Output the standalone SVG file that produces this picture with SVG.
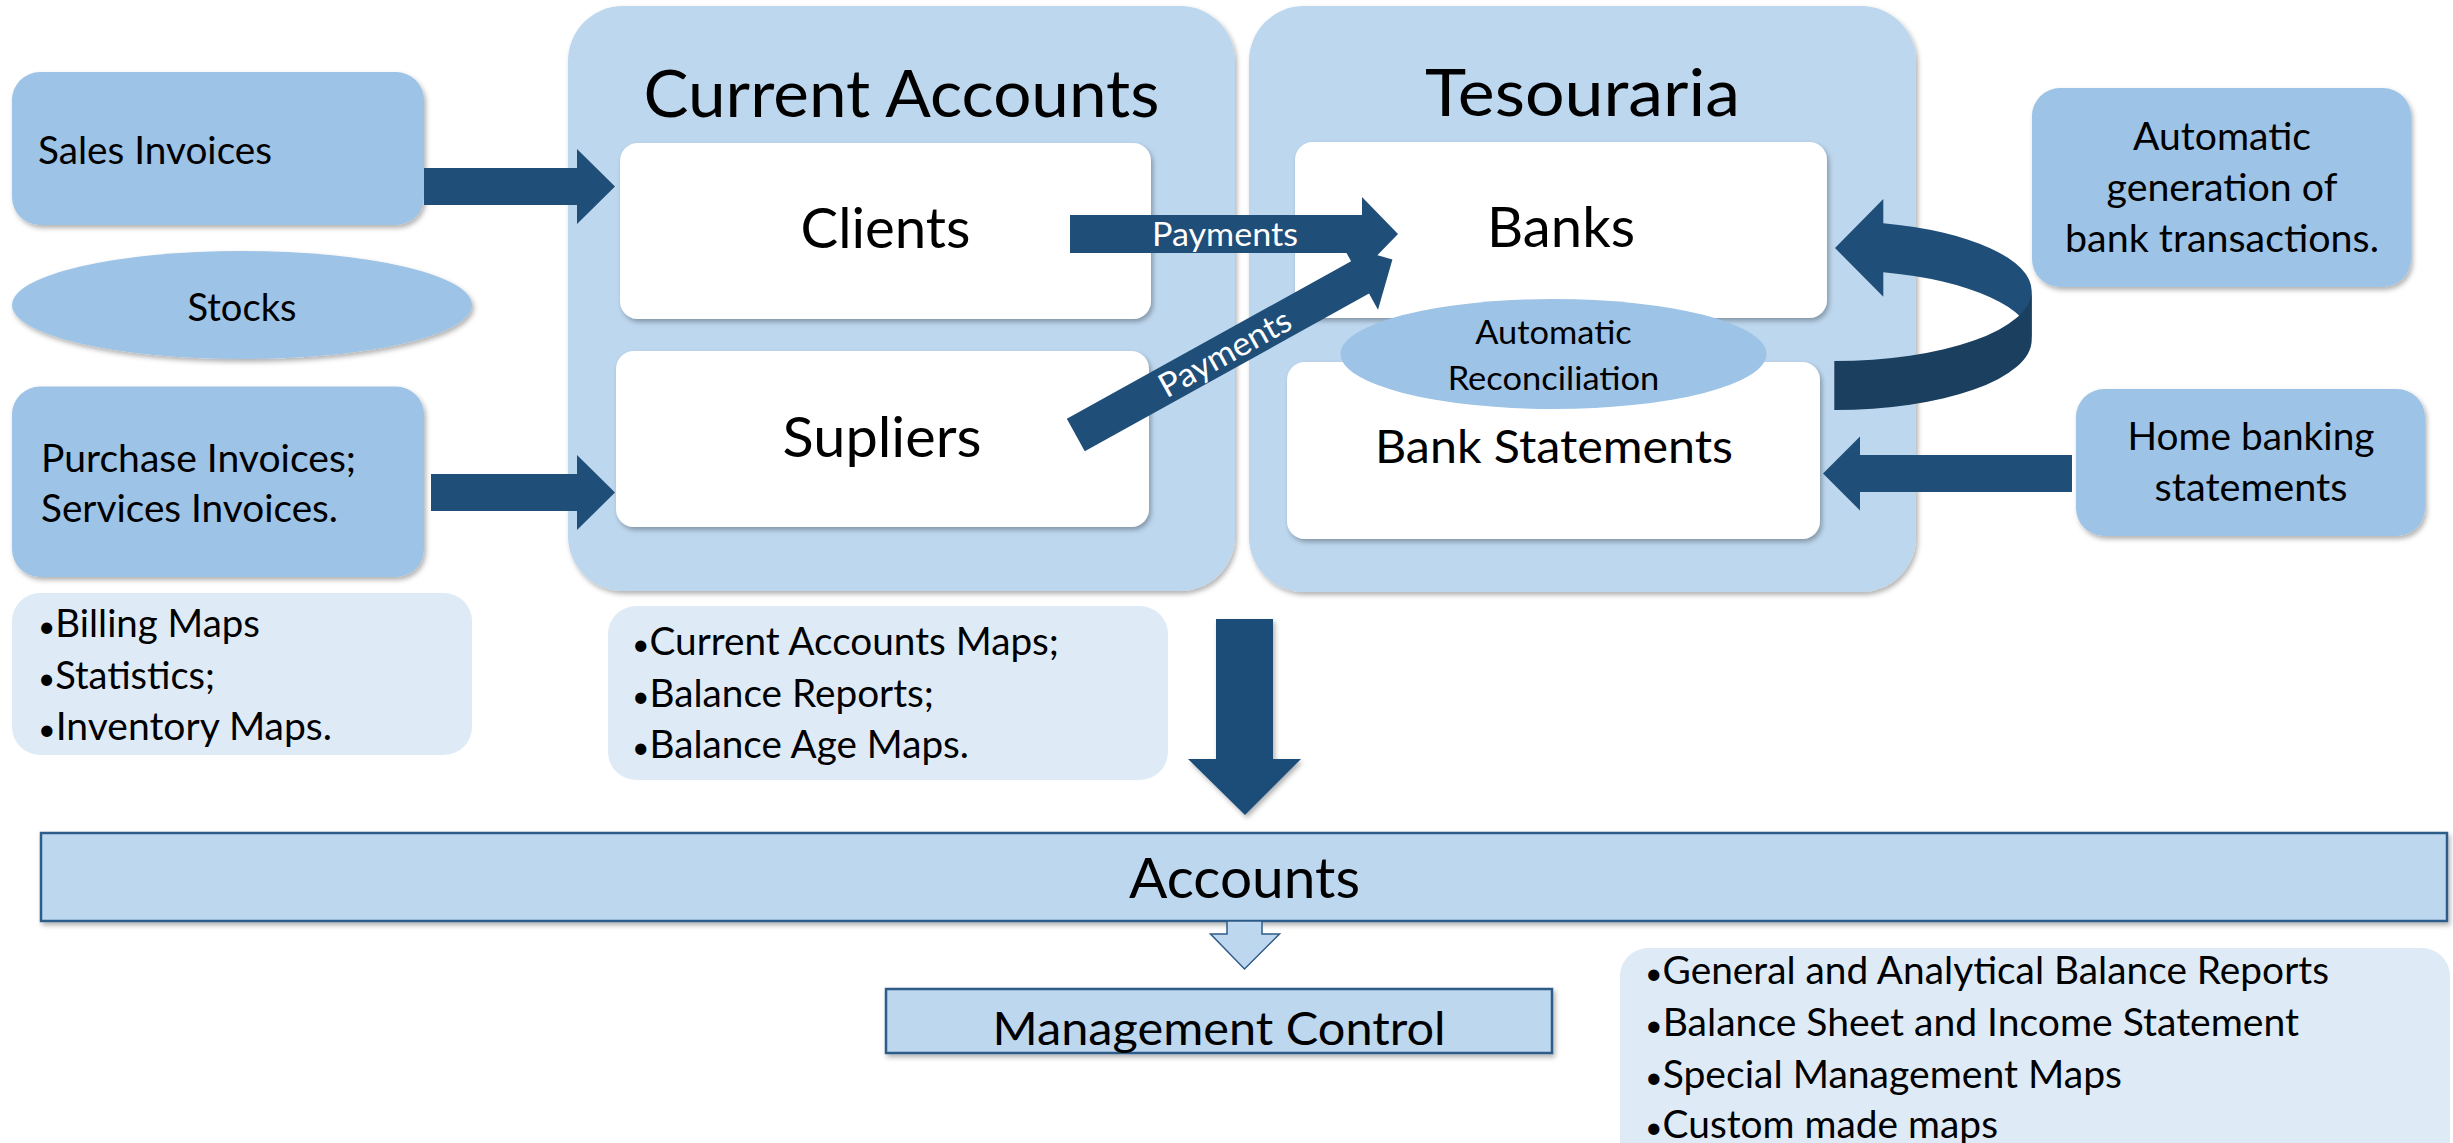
<svg xmlns="http://www.w3.org/2000/svg" width="2453" height="1143" viewBox="0 0 2453 1143">
<defs>
<filter id="sh" x="-10%" y="-10%" width="125%" height="140%">
<feDropShadow dx="2" dy="3" stdDeviation="2.5" flood-color="#000" flood-opacity="0.3"/>
</filter>
<style>
text{font-family:Lato,"Liberation Sans",sans-serif;fill:#000;}
.mid{fill:#9DC3E6;filter:url(#sh);}
.cont{fill:#BDD7EE;filter:url(#sh);}
.lite{fill:#DEEBF7;}
.white{fill:#FFFFFF;filter:url(#sh);}
.arr{fill:#1F4E79;}
.arrs{fill:#1F4E79;filter:url(#sh);}
.dark{fill:#1B3F5F;}
.bar{fill:#BDD7EE;stroke:#2E5B88;stroke-width:2.5;filter:url(#sh);}
.c{text-anchor:middle;}
.s42{font-size:38.5px;}
.b{font-size:30px;}
.wt{fill:#FFFFFF;font-size:33px;}
</style>
</defs>
<rect width="2453" height="1143" fill="#FFFFFF"/>

<g id="current-accounts">
<rect class="cont" x="568" y="6" width="667" height="585" rx="55"/>
<text class="c" x="901.5" y="116.5" font-size="66" textLength="516" lengthAdjust="spacingAndGlyphs">Current Accounts</text>
</g>
<g id="tesouraria">
<rect class="cont" x="1249" y="6" width="667" height="586" rx="55"/>
<text class="c" x="1582.5" y="115.5" font-size="66" textLength="315" lengthAdjust="spacingAndGlyphs">Tesouraria</text>
</g>

<g id="clients">
<rect class="white" x="620" y="143" width="531" height="176" rx="18"/>
<text class="c" x="885.5" y="248" font-size="56" textLength="170" lengthAdjust="spacingAndGlyphs">Clients</text>
</g>
<g id="supliers">
<rect class="white" x="616" y="351" width="533" height="176" rx="18"/>
<text class="c" x="882" y="456.5" font-size="56" textLength="199" lengthAdjust="spacingAndGlyphs">Supliers</text>
</g>
<g id="banks">
<rect class="white" x="1295" y="142" width="532" height="176" rx="18"/>
<text class="c" x="1561" y="247" font-size="56" textLength="148" lengthAdjust="spacingAndGlyphs">Banks</text>
</g>
<g id="bank-statements">
<rect class="white" x="1287" y="362" width="533" height="177" rx="18"/>
<text class="c" x="1554" y="462.5" font-size="47" textLength="358" lengthAdjust="spacingAndGlyphs">Bank Statements</text>
</g>
<g id="automatic-reconciliation">
<ellipse cx="1553.5" cy="354" rx="213" ry="55" fill="#9DC3E6"/>
<text class="c" x="1553.5" y="344" font-size="33.5" textLength="156.5" lengthAdjust="spacingAndGlyphs">Automatic</text>
<text class="c" x="1553.5" y="389.5" font-size="33.5" textLength="211.7" lengthAdjust="spacingAndGlyphs">Reconciliation</text>
</g>

<g id="sales-invoices">
<rect class="mid" x="12" y="72" width="412" height="153" rx="28"/>
<text class="s42" x="38" y="164" textLength="234" lengthAdjust="spacingAndGlyphs">Sales Invoices</text>
</g>
<g id="stocks">
<ellipse class="mid" cx="242" cy="305" rx="230" ry="54"/>
<text class="s42 c" x="242" y="321" textLength="109" lengthAdjust="spacingAndGlyphs">Stocks</text>
</g>
<g id="purchase-invoices">
<rect class="mid" x="12" y="386.5" width="412" height="190.5" rx="28"/>
<text class="s42" x="41" y="471.5" textLength="315" lengthAdjust="spacingAndGlyphs">Purchase Invoices;</text>
<text class="s42" x="41" y="522" textLength="297" lengthAdjust="spacingAndGlyphs">Services Invoices.</text>
</g>
<g id="billing-maps">
<rect class="lite" x="12" y="593" width="460" height="162" rx="28"/>
<text class="s42" x="38" y="637" textLength="222" lengthAdjust="spacingAndGlyphs"><tspan class="b">•</tspan>Billing Maps</text>
<text class="s42" x="38" y="688.5" textLength="177" lengthAdjust="spacingAndGlyphs"><tspan class="b">•</tspan>Statistics;</text>
<text class="s42" x="38" y="740" textLength="294" lengthAdjust="spacingAndGlyphs"><tspan class="b">•</tspan>Inventory Maps.</text>
</g>
<g id="current-accounts-maps">
<rect class="lite" x="608" y="606" width="560" height="174" rx="28"/>
<text class="s42" x="632" y="655" textLength="427" lengthAdjust="spacingAndGlyphs"><tspan class="b">•</tspan>Current Accounts Maps;</text>
<text class="s42" x="632" y="706.5" textLength="302" lengthAdjust="spacingAndGlyphs"><tspan class="b">•</tspan>Balance Reports;</text>
<text class="s42" x="632" y="758" textLength="337" lengthAdjust="spacingAndGlyphs"><tspan class="b">•</tspan>Balance Age Maps.</text>
</g>
<g id="automatic-generation">
<rect class="mid" x="2032" y="88" width="379" height="199" rx="28"/>
<text class="s42 c" x="2222" y="150" textLength="178" lengthAdjust="spacingAndGlyphs">Automatic</text>
<text class="s42 c" x="2222" y="201" textLength="231" lengthAdjust="spacingAndGlyphs">generation of</text>
<text class="s42 c" x="2222" y="252" textLength="314" lengthAdjust="spacingAndGlyphs">bank transactions.</text>
</g>
<g id="home-banking">
<rect class="mid" x="2076" y="389" width="349" height="147" rx="28"/>
<text class="s42 c" x="2251" y="450" textLength="247" lengthAdjust="spacingAndGlyphs">Home banking</text>
<text class="s42 c" x="2251" y="501" textLength="193" lengthAdjust="spacingAndGlyphs">statements</text>
</g>
<g id="accounts">
<rect class="bar" x="41" y="833" width="2406" height="88"/>
<text class="c" x="1244.5" y="898" font-size="56" textLength="231" lengthAdjust="spacingAndGlyphs">Accounts</text>
</g>
<g id="management-control">
<rect class="bar" x="886" y="989" width="666" height="64"/>
<text class="c" x="1219" y="1045" font-size="47" textLength="453" lengthAdjust="spacingAndGlyphs">Management Control</text>
</g>
<g id="reports">
<rect class="lite" x="1620" y="948" width="830" height="240" rx="28"/>
<text class="s42" x="1645" y="984" textLength="684" lengthAdjust="spacingAndGlyphs"><tspan class="b">•</tspan>General and Analytical Balance Reports</text>
<text class="s42" x="1645" y="1036" textLength="654" lengthAdjust="spacingAndGlyphs"><tspan class="b">•</tspan>Balance Sheet and Income Statement</text>
<text class="s42" x="1645" y="1088" textLength="477" lengthAdjust="spacingAndGlyphs"><tspan class="b">•</tspan>Special Management Maps</text>
<text class="s42" x="1645" y="1138" textLength="353" lengthAdjust="spacingAndGlyphs"><tspan class="b">•</tspan>Custom made maps</text>
</g>

<g id="connectors">
<polygon class="arr" points="424,168 577,168 577,149 615,186.5 577,224 577,205 424,205"/>
<polygon class="arr" points="431,474 577,474 577,455 615,492.5 577,530 577,511 431,511"/>
<g id="payments-clients-banks">
<polygon class="arr" points="1070,215 1362,215 1362,197 1398,234 1362,271 1362,253 1070,253"/>
<text class="wt c" x="1225" y="245.5" textLength="146" lengthAdjust="spacingAndGlyphs">Payments</text>
</g>
<g id="payments-supliers-banks" transform="translate(1075.8,435) rotate(-29)">
<polygon class="arr" points="0,-18.5 325,-18.5 325,-37 362,0 325,37 325,18.5 0,18.5"/>
<text class="wt c" x="170" y="12" textLength="146" lengthAdjust="spacingAndGlyphs">Payments</text>
</g>
<g id="curved-arrow">
<path class="arr" d="M1835,248 L1883.3,199 L1883.3,223.3 A197.4,70 0 0 1 2031.7,291 L2031.7,340 A197.4,70 0 0 0 1883.3,272.3 L1883.3,296.7 Z"/>
<path class="dark" d="M1834.3,361 A197.4,70 0 0 0 2031.7,291 L2031.7,340 A197.4,70 0 0 1 1834.3,410 Z"/>
</g>
<polygon class="arr" points="2072,455 1860,455 1860,436.5 1823,473.5 1860,510.5 1860,492 2072,492"/>
<polygon class="arrs" points="1216,619 1273,619 1273,759 1301,759 1245,815 1188,759 1216,759"/>
<polygon points="1227,921 1262,921 1262,934 1279.5,934 1244.5,969 1210.5,934 1227,934" fill="#BDD7EE" stroke="#2E5B88" stroke-width="1.5"/>
</g>
</svg>
